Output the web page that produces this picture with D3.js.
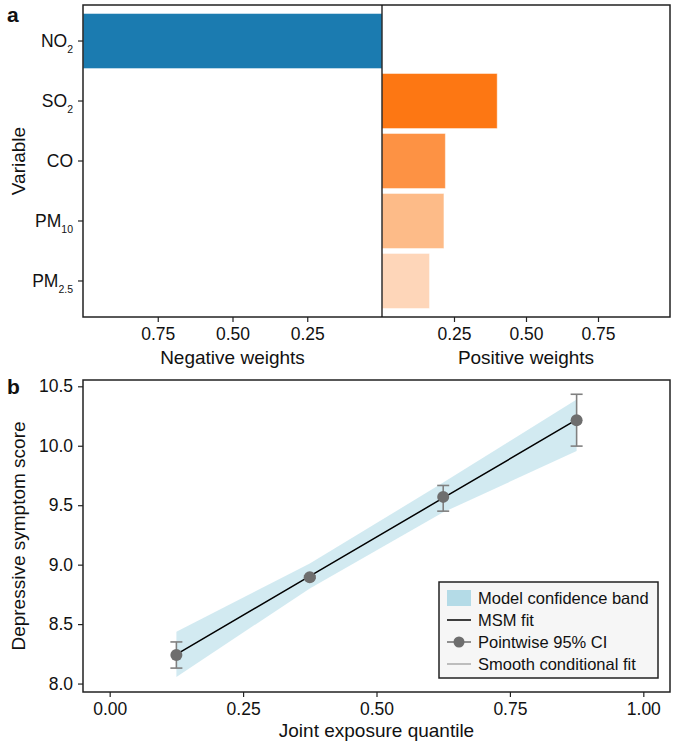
<!DOCTYPE html>
<html><head><meta charset="utf-8">
<script src="https://cdn.jsdelivr.net/npm/d3@7"></script>
<style>body{margin:0;background:#fff} text{font-family:"Liberation Sans",Arial,Helvetica,sans-serif;fill:#111}</style>
</head><body><svg id="c" width="692" height="746"></svg>
<script>
// ---- Panel a data ----
const variables = ["NO2","SO2","CO","PM10","PM2.5"];
const varBase = ["NO","SO","CO","PM","PM"];
const varSub = ["2","2","","10","2.5"];
const negWeights = [1.0, 0, 0, 0, 0];
const posWeights = [0, 0.40, 0.22, 0.215, 0.165];
const barColors = ["#1b7bb0","#fd7713","#fd9244","#fdbb88","#fed6b9"];
const weightTicks = [0.25, 0.50, 0.75];

// ---- Panel b data ----
const quantiles = [0.125, 0.375, 0.625, 0.875];
const msmFit   = [8.245, 8.903, 9.561, 10.219];
const pointEst = [8.24, 8.895, 9.57, 10.215];
const ciLow    = [8.13, 8.885, 9.45, 9.997];
const ciHigh   = [8.35, 8.905, 9.666, 10.433];
const bandLow  = [8.056, 8.80, 9.44, 9.955];
const bandHigh = [8.435, 9.01, 9.69, 10.39];
const xTicksB = [0, 0.25, 0.50, 0.75, 1.00];
const yTicksB = [8.0, 8.5, 9.0, 9.5, 10.0, 10.5];
const legendLabels = ["Model confidence band","MSM fit","Pointwise 95% CI","Smooth conditional fit"];

const svg = d3.select("#c");
const TICK_FS = 17.5, TITLE_FS = 19;

function styleAxis(g){
  g.attr("font-family", null).attr("font-size", null);
  g.select(".domain").remove();
  g.selectAll(".tick line").attr("stroke","#222").attr("stroke-width",1.2);
  g.selectAll(".tick text").attr("font-size", TICK_FS).attr("fill","#111");
}

// ===== Panel a =====
const A = {l:83, r:670, t:5, b:317, mid:382};
const y = d3.scaleBand().domain(variables).range([A.t, A.b]).paddingInner(0.083).paddingOuter(0.142);
const xNeg = d3.scaleLinear().domain([0,1]).range([A.mid, A.l]);
const xPos = d3.scaleLinear().domain([0,1]).range([A.mid, A.r]);

const ga = svg.append("g");
// negative bars
ga.selectAll("rect.neg").data(variables).join("rect")
  .attr("x", (d,i)=>xNeg(negWeights[i]))
  .attr("y", d=>y(d))
  .attr("width", (d,i)=>xNeg(0)-xNeg(negWeights[i]))
  .attr("height", y.bandwidth())
  .attr("fill", (d,i)=>barColors[i])
  .attr("stroke","#fff").attr("stroke-opacity",0.45).attr("stroke-width",1);
// positive bars
ga.selectAll("rect.pos").data(variables).join("rect")
  .attr("x", xPos(0))
  .attr("y", d=>y(d))
  .attr("width", (d,i)=>xPos(posWeights[i])-xPos(0))
  .attr("height", y.bandwidth())
  .attr("fill", (d,i)=>barColors[i])
  .attr("stroke","#fff").attr("stroke-opacity",0.45).attr("stroke-width",1);

// frame and divider
ga.append("rect").attr("x",A.l).attr("y",A.t).attr("width",A.r-A.l).attr("height",A.b-A.t)
  .attr("fill","none").attr("stroke","#222").attr("stroke-width",1.5);
ga.append("line").attr("x1",A.mid).attr("x2",A.mid).attr("y1",A.t).attr("y2",A.b)
  .attr("stroke","#111").attr("stroke-width",1.3);

// y axis with subscripts
const yAx = ga.append("g").attr("transform",`translate(${A.l},0)`)
  .call(d3.axisLeft(y).tickSize(5).tickPadding(5).tickSizeOuter(0)).call(styleAxis);
yAx.selectAll(".tick text").each(function(d){
  const i = variables.indexOf(d);
  const t = d3.select(this).text(null);
  if (varSub[i]) {
    t.append("tspan").text(varBase[i]);
    t.append("tspan").attr("font-size",10.5).attr("dy",6).text(varSub[i]);
  } else t.text(varBase[i]);
});
// x axes
ga.append("g").attr("transform",`translate(0,${A.b})`)
  .call(d3.axisBottom(xNeg).tickValues(weightTicks).tickFormat(d3.format(".2f")).tickSize(5).tickPadding(6)).call(styleAxis);
ga.append("g").attr("transform",`translate(0,${A.b})`)
  .call(d3.axisBottom(xPos).tickValues(weightTicks).tickFormat(d3.format(".2f")).tickSize(5).tickPadding(6)).call(styleAxis);

ga.append("text").attr("x",(A.l+A.mid)/2).attr("y",364).attr("text-anchor","middle").attr("font-size",TITLE_FS).text("Negative weights");
ga.append("text").attr("x",(A.mid+A.r)/2).attr("y",364).attr("text-anchor","middle").attr("font-size",TITLE_FS).text("Positive weights");
ga.append("text").attr("transform",`translate(25,${(A.t+A.b)/2}) rotate(-90)`).attr("text-anchor","middle").attr("font-size",TITLE_FS).text("Variable");
ga.append("text").attr("x",7).attr("y",22).attr("font-size",21).attr("font-weight","bold").text("a");

// ===== Panel b =====
const B = {l:83, r:670, t:380, b:692};
const xb = d3.scaleLinear().domain([-0.05,1.05]).range([B.l,B.r]);
const yb = d3.scaleLinear().domain([7.929,10.553]).range([B.b,B.t]);
const gb = svg.append("g");

const bandData = quantiles.map((q,i)=>({q, lo:bandLow[i], hi:bandHigh[i]}));
gb.append("path").datum(bandData)
  .attr("d", d3.area().x(d=>xb(d.q)).y0(d=>yb(d.lo)).y1(d=>yb(d.hi)))
  .attr("fill","#add8e6").attr("fill-opacity",0.55);

const fitData = quantiles.map((q,i)=>({q, v:msmFit[i]}));
gb.append("path").datum(fitData)
  .attr("d", d3.line().x(d=>xb(d.q)).y(d=>yb(d.v)))
  .attr("fill","none").attr("stroke","#000").attr("stroke-width",1.5);

// error bars
const eb = gb.selectAll("g.eb").data(quantiles).join("g");
eb.append("line").attr("x1",d=>xb(d)).attr("x2",d=>xb(d))
  .attr("y1",(d,i)=>yb(ciLow[i])).attr("y2",(d,i)=>yb(ciHigh[i]))
  .attr("stroke","#808080").attr("stroke-width",1.6);
eb.append("line").attr("x1",d=>xb(d)-6).attr("x2",d=>xb(d)+6)
  .attr("y1",(d,i)=>yb(ciLow[i])).attr("y2",(d,i)=>yb(ciLow[i]))
  .attr("stroke","#808080").attr("stroke-width",1.6);
eb.append("line").attr("x1",d=>xb(d)-6).attr("x2",d=>xb(d)+6)
  .attr("y1",(d,i)=>yb(ciHigh[i])).attr("y2",(d,i)=>yb(ciHigh[i]))
  .attr("stroke","#808080").attr("stroke-width",1.6);
eb.append("circle").attr("cx",d=>xb(d)).attr("cy",(d,i)=>yb(pointEst[i])).attr("r",6)
  .attr("fill","#6e6e6e");

// frame
gb.append("rect").attr("x",B.l).attr("y",B.t).attr("width",B.r-B.l).attr("height",B.b-B.t)
  .attr("fill","none").attr("stroke","#222").attr("stroke-width",1.5);

gb.append("g").attr("transform",`translate(0,${B.b})`)
  .call(d3.axisBottom(xb).tickValues(xTicksB).tickFormat(d3.format(".2f")).tickSize(5).tickPadding(6)).call(styleAxis);
gb.append("g").attr("transform",`translate(${B.l},0)`)
  .call(d3.axisLeft(yb).tickValues(yTicksB).tickFormat(d3.format(".1f")).tickSize(5).tickPadding(5)).call(styleAxis);

gb.append("text").attr("x",(B.l+B.r)/2).attr("y",737).attr("text-anchor","middle").attr("font-size",TITLE_FS).text("Joint exposure quantile");
gb.append("text").attr("transform",`translate(25,${(B.t+B.b)/2}) rotate(-90)`).attr("text-anchor","middle").attr("font-size",TITLE_FS).text("Depressive symptom score");
gb.append("text").attr("x",7).attr("y",394).attr("font-size",21).attr("font-weight","bold").text("b");

// legend
const L = {x:439, y:582, w:219, h:96};
const lg = gb.append("g");
lg.append("rect").attr("x",L.x).attr("y",L.y).attr("width",L.w).attr("height",L.h)
  .attr("fill","#f6f6f6").attr("stroke","#222").attr("stroke-width",1.5);
const rowY = i => L.y + 16 + i*22;
const hx0 = L.x + 8, hx1 = L.x + 32;
lg.append("rect").attr("x",hx0).attr("y",rowY(0)-8).attr("width",hx1-hx0).attr("height",16)
  .attr("fill","#add8e6").attr("fill-opacity",0.9);
lg.append("line").attr("x1",hx0).attr("x2",hx1).attr("y1",rowY(1)).attr("y2",rowY(1)).attr("stroke","#000").attr("stroke-width",1.5);
lg.append("line").attr("x1",hx0).attr("x2",hx1).attr("y1",rowY(2)).attr("y2",rowY(2)).attr("stroke","#6e6e6e").attr("stroke-width",1.5);
lg.append("circle").attr("cx",(hx0+hx1)/2).attr("cy",rowY(2)).attr("r",5.5).attr("fill","#6e6e6e");
lg.append("line").attr("x1",hx0).attr("x2",hx1).attr("y1",rowY(3)).attr("y2",rowY(3)).attr("stroke","#aaa").attr("stroke-width",1.5);
lg.selectAll("text.lt").data(legendLabels).join("text")
  .attr("x", L.x + 39).attr("y",(d,i)=>rowY(i)+6).attr("font-size",16.5).text(d=>d);
</script></body></html>
